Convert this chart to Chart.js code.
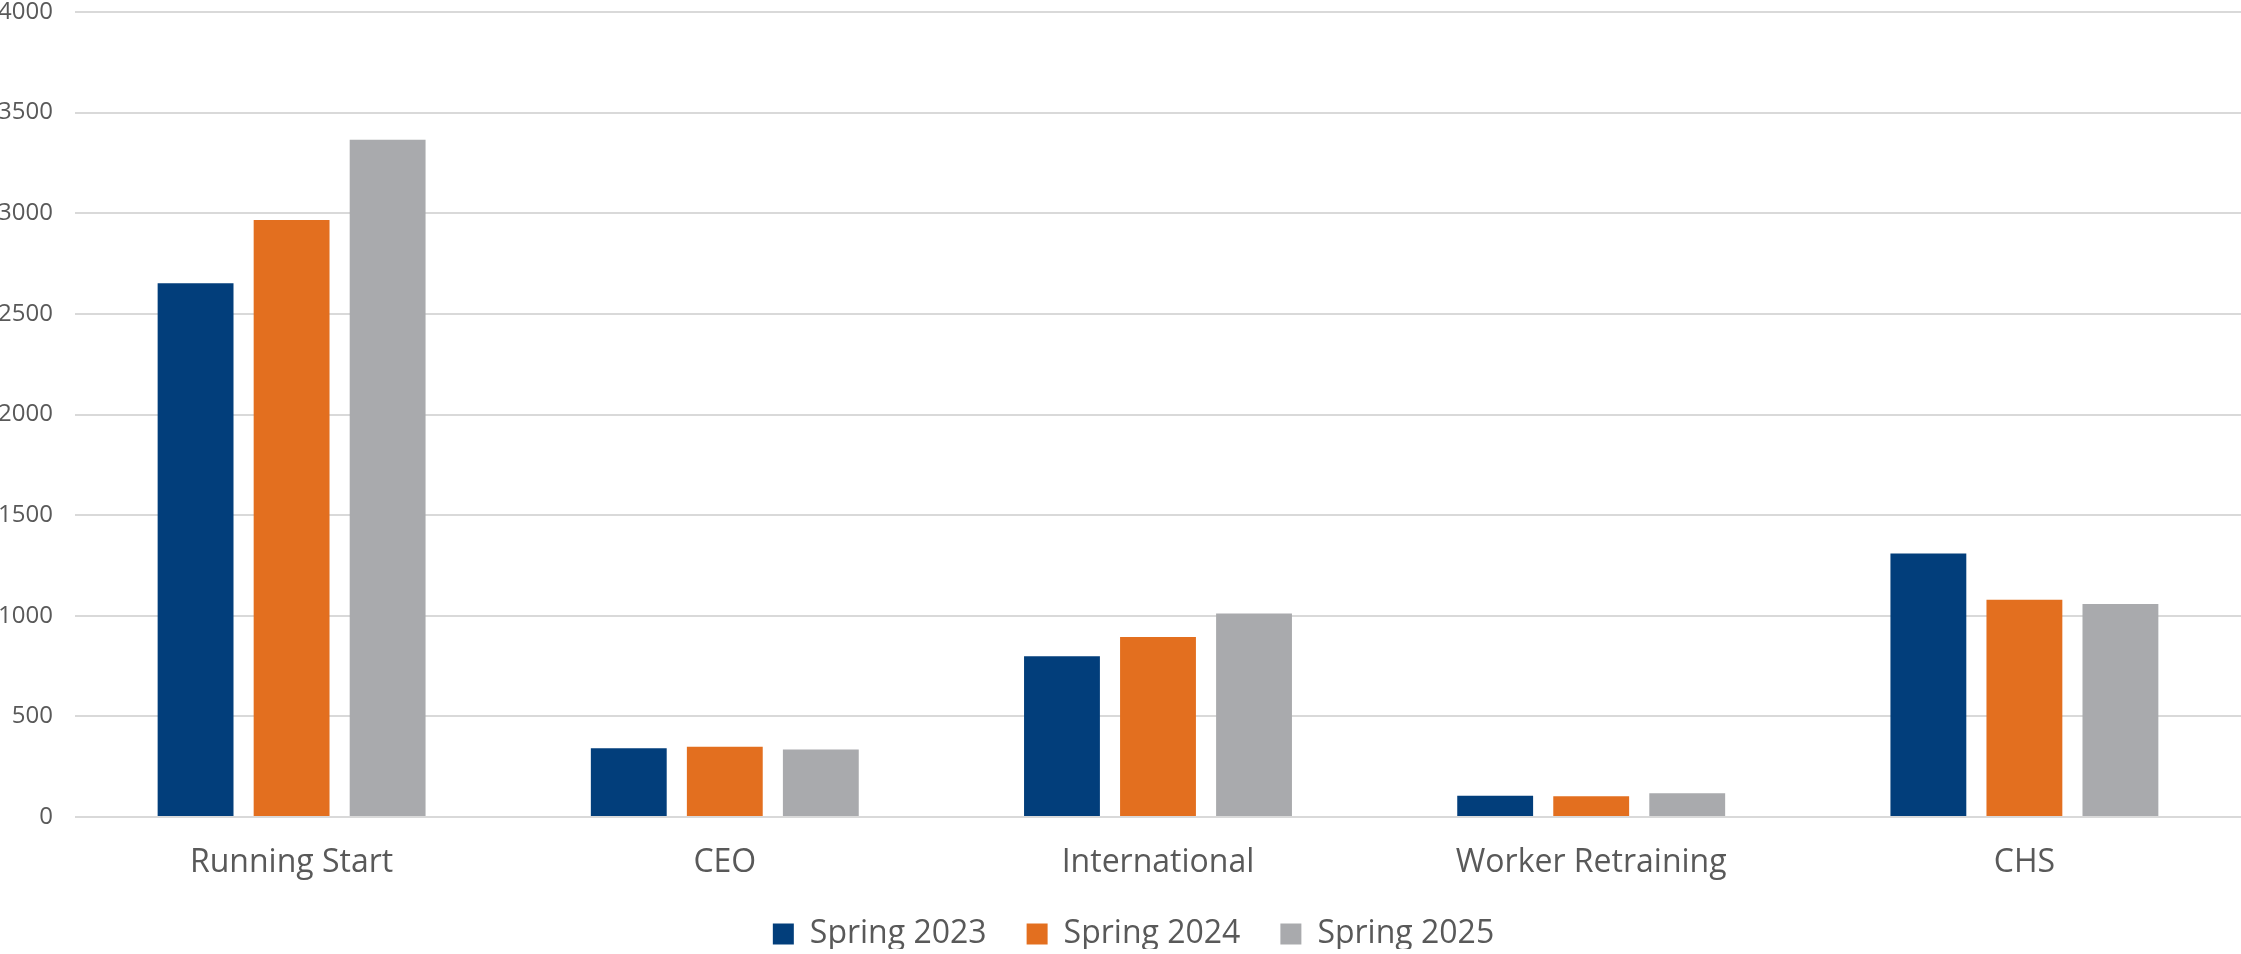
<!DOCTYPE html>
<html>
<head>
<meta charset="utf-8">
<script src="https://cdn.jsdelivr.net/npm/chart.js@4.4.1/dist/chart.umd.min.js"></script>
<style>
  html, body { margin: 0; padding: 0; background: #fff; overflow: hidden; }
  #wrap { width: 2241px; height: 976px; position: relative; margin-top: -22px; }
</style>
</head>
<body>
<div id="wrap"><canvas id="barChart"></canvas></div>
<script>
const categories = ["Running Start", "CEO", "International", "Worker Retraining", "CHS"];
const spring2023 = [2652, 342, 799, 106, 1309];
const spring2024 = [2966, 349, 895, 103, 1080];
const spring2025 = [3365, 336, 1011, 118, 1059];
const seriesNames = ["Spring 2023", "Spring 2024", "Spring 2025"];
const seriesColors = ["#023E7B", "#E36F1F", "#A9AAAD"];

const textColor = "#595959";
const fontName = "'Open Sans', 'Noto Sans', sans-serif";

// legend sits a bit lower / right than Chart.js puts it, tweak its box
const legendTweak = {
  id: "legendTweak",
  afterInit(chart) {
    const lg = chart.legend;
    const origFit = lg.fit;
    lg.fit = function () {
      origFit.call(this);
      this.height = 71;
    };
  },
  afterLayout(chart) {
    chart.legend.left += 13;
    chart.legend.right += 13;
    chart.legend.top -= 5;
    chart.legend.bottom -= 5;
  },
};

window.addEventListener("load", () => {
  const ctx = document.getElementById("barChart").getContext("2d");
  const allValues = [spring2023, spring2024, spring2025];

  new Chart(ctx, {
    type: "bar",
    data: {
      labels: categories,
      datasets: allValues.map((vals, i) => ({
        label: seriesNames[i],
        data: vals,
        backgroundColor: seriesColors[i],
        borderWidth: 0,
        categoryPercentage: 0.665,
        barPercentage: 0.79,
      })),
    },
    plugins: [legendTweak],
    options: {
      responsive: true,
      maintainAspectRatio: false,
      animation: false,
      plugins: {
        tooltip: { enabled: false },
        legend: {
          position: "bottom",
          labels: {
            boxWidth: 21,
            boxHeight: 21,
            padding: 40,
            color: textColor,
            font: { family: fontName, size: 32 },
          },
        },
      },
      scales: {
        x: {
          afterFit: (scale) => { scale.height = 66; },
          grid: { display: false, drawTicks: false },
          border: { display: false },
          ticks: {
            color: textColor,
            padding: 27,
            font: { family: fontName, size: 32 },
          },
        },
        y: {
          min: 0,
          max: 4000,
          afterFit: (scale) => { scale.width = 75; },
          grid: { color: "#D9D9D9", lineWidth: 2, drawTicks: false },
          border: { display: false },
          ticks: {
            stepSize: 500,
            color: textColor,
            padding: 22,
            font: { family: fontName, size: 24, lineHeight: 1 },
            callback: (v) => String(v),
          },
        },
      },
    },
  });
});
</script>
</body>
</html>
